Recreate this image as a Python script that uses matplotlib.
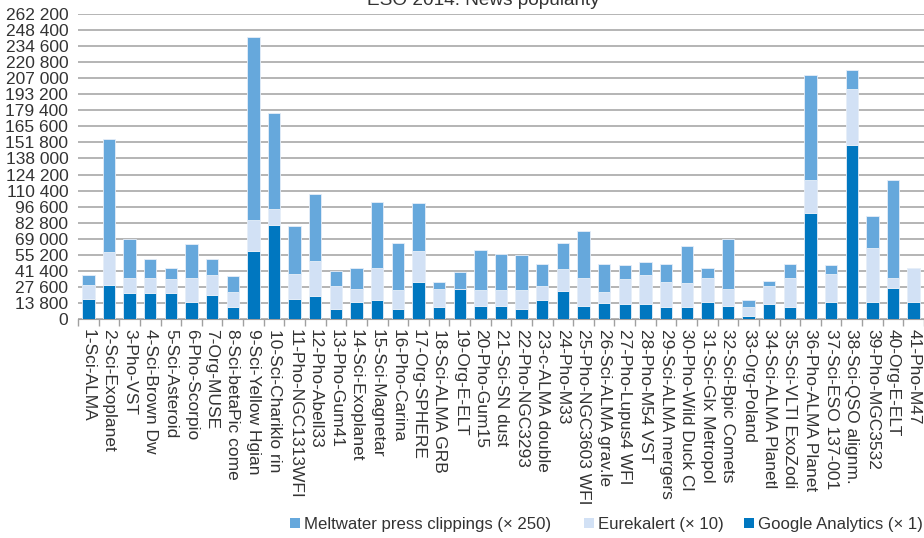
import matplotlib
matplotlib.use('Agg')
import matplotlib.pyplot as plt
from matplotlib.patches import Rectangle
import numpy as np

# categories
labels = ['1-Sci-ALMA', '2-Sci-Exoplanet', '3-Pho-VST', '4-Sci-Brown Dw', '5-Sci-Asteroid',
          '6-Pho-Scorpio', '7-Org-MUSE', '8-Sci-betaPic come', '9-Sci-Yellow Hgian',
          '10-Sci-Chariklo rin', '11-Pho-NGC1313WFI', '12-Pho-Abell33', '13-Pho-Gum41',
          '14-Sci-Exoplanet', '15-Sci-Magnetar', '16-Pho-Carina', '17-Org-SPHERE',
          '18-Sci-ALMA GRB', '19-Org-E-ELT', '20-Pho-Gum15', '21-Sci-SN dust',
          '22-Pho-NGC3293', '23-c-ALMA double', '24-Pho-M33', '25-Pho-NGC3603 WFI',
          '26-Sci-ALMA grav.le', '27-Pho-Lupus4 WFI', '28-Pho-M54 VST', '29-Sci-ALMA mergers',
          '30-Pho-Wild Duck Cl', '31-Sci-Glx Metropol', '32-Sci-Bpic Comets', '33-Org-Poland',
          '34-Sci-ALMA Planetl', '35-Sci-VLTI ExoZodi', '36-Pho-ALMA Planet', '37-Sci-ESO 137-001',
          '38-Sci-QSO alignm.', '39-Pho-MGC3532', '40-Org-E-ELT', '41-Pho-M47']

# stacked segment heights (already scaled as in the legend)
google = [17200, 29200, 22100, 22100, 22100, 14900, 20900, 10000, 58500, 80800,
          17200, 19800, 8600, 14900, 16000, 8600, 31800, 10000, 25800, 11500,
          11500, 8600, 16000, 24400, 11500, 13800, 12600, 12600, 10000, 10000,
          14900, 11500, 2900, 12600, 10000, 90800, 14900, 149900, 14900, 26900, 14900]
eurekalert = [12000, 28100, 13400, 13400, 12300, 20600, 16900, 13200, 26600, 13800,
              21800, 30100, 19800, 11200, 28100, 16000, 26700, 16100, 0, 13100,
              13100, 16000, 12400, 18300, 24000, 9400, 21800, 25200, 21800, 20700,
              20600, 14300, 7400, 15800, 25500, 29000, 24100, 48100, 45900, 8600, 28900]
meltwater = [8600, 97400, 33600, 15800, 9700, 29000, 13500, 13500, 157600, 82800,
             41000, 57800, 13200, 17700, 56500, 40700, 40900, 5700, 14300, 35000,
             31300, 30100, 18900, 22600, 39900, 24100, 11700, 10900, 15500, 32300,
             8300, 43300, 5700, 4600, 11800, 90000, 7100, 15800, 27500, 84300, 0]

series_names = ['Meltwater press clippings (× 250)', 'Eurekalert (× 10)', 'Google Analytics (× 1)']
colors = ['#66A8DC', '#D2E1F5', '#0077C0']
yticks = np.arange(0, 262201, 13800)

plt.rcParams['font.family'] = ['Liberation Sans', 'DejaVu Sans']
text_col = '#333333'
fs = 12.5

fig = plt.figure(figsize=(9.24, 5.38), dpi=100)
W, H = 924, 538
ax = fig.add_axes([78 / W, 1 - 319 / H, (924 - 78) / W, (319 - 14) / H])

x = np.arange(len(labels))
g = np.array(google)
e = np.array(eurekalert)
m = np.array(meltwater)
bw = 0.6
ax.bar(x, g, bw, color=colors[2], edgecolor='#e6eef8', linewidth=0.6, zorder=3)
ax.bar(x, e, bw, bottom=g, color=colors[1], edgecolor='#e6eef8', linewidth=0.6, zorder=3)
ax.bar(x, m, bw, bottom=g + e, color=colors[0], edgecolor='#e6eef8', linewidth=0.6, zorder=3)

ax.set_xlim(-0.5, len(labels) - 0.5)
ax.set_ylim(0, 262200)
ax.set_yticks(yticks)
ax.set_yticklabels([f'{v:,}'.replace(',', ' ') for v in yticks], fontsize=fs, color=text_col)
ax.yaxis.grid(True, color='#a0a0a0', linewidth=1.1, zorder=0)
ax.tick_params(axis='y', length=0, pad=7)

ax.set_xticks(x)
ax.set_xticklabels(labels, rotation=-90, fontsize=fs, color=text_col, va='top', ha='center')
ax.set_xticks(np.arange(-0.5, len(labels), 1), minor=True)
ax.tick_params(axis='x', which='major', length=0, pad=7)
ax.tick_params(axis='x', which='minor', length=5, color='#a0a0a0', width=1)

for s in ['top', 'right', 'left']:
    ax.spines[s].set_visible(False)
ax.spines['bottom'].set_color('#a0a0a0')

fig.text(483 / W, 1 - 5 / H, 'ESO 2014: News popularity', ha='center', va='baseline',
         fontsize=13.7, color=text_col)

# legend placed by hand to match the original spacing
sq_x = [290, 584, 744]
ly = 523
for sx, name, c in zip(sq_x, series_names, colors):
    fig.patches.append(Rectangle((sx / W, 1 - (ly + 5) / H), 10 / W, 10 / H,
                                 transform=fig.transFigure, facecolor=c, edgecolor='none'))
    fig.text((sx + 14) / W, 1 - ly / H, name, ha='left', va='center_baseline',
             fontsize=12.1, color=text_col)

fig.savefig('out.png', dpi=100)
